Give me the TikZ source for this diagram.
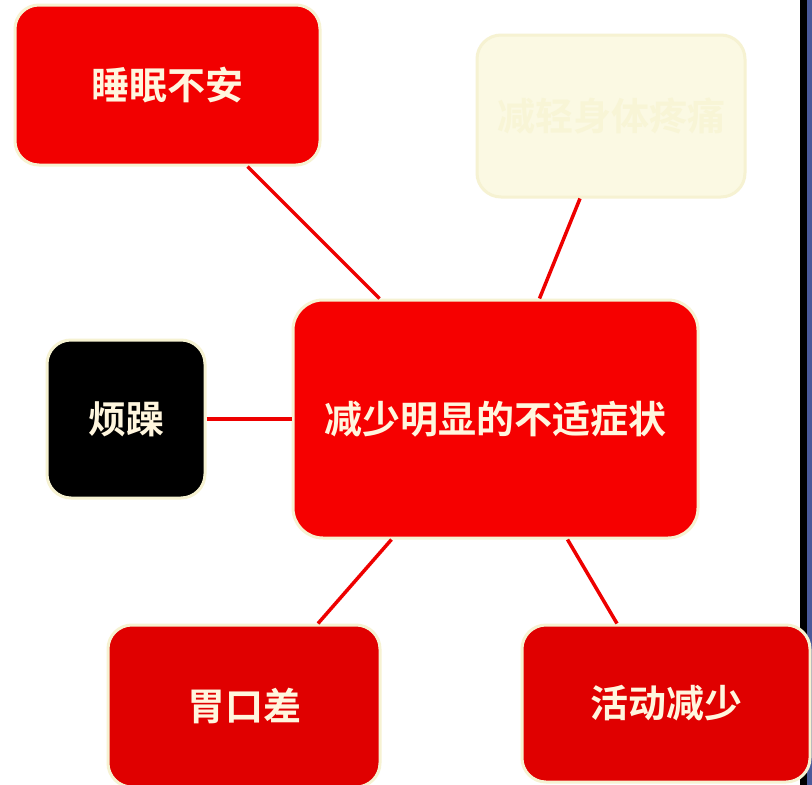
\documentclass[tikz,border=0pt]{standalone}
\usepackage{fontspec}
\newfontfamily\cjk{Noto Sans CJK SC}[BoldFont={Noto Sans CJK SC Bold}]
\definecolor{boxred}{HTML}{F20000}
\definecolor{corered}{HTML}{F60000}
\definecolor{darkred}{HTML}{E00000}
\definecolor{cream}{HTML}{F6F2D2}
\definecolor{paper}{HTML}{FBF9E3}
\definecolor{faintink}{HTML}{F8F5D6}
\definecolor{textcream}{HTML}{FFF6DE}
\definecolor{linered}{HTML}{EE0000}
\definecolor{edgeblue}{HTML}{4A5A9A}
\begin{document}
\begin{tikzpicture}[x=1pt,y=-1pt,
  card/.style={draw=cream, line width=3pt, rounded corners=24pt,
    minimum width=#1, align=center, text=textcream,
    font=\cjk\bfseries\fontsize{38}{42}\selectfont},
  link/.style={draw=linered, line width=3.5pt}]
\useasboundingbox (0,0) rectangle (812,785);
\fill[white] (0,0) rectangle (812,785);
% right window edge
\fill[black] (800,0) rectangle (807,785);
\fill[edgeblue] (807,0) rectangle (812,785);
% nodes
\node[card=305pt, minimum height=160pt, fill=boxred] (sleep) at (167.5,85) {睡眠不安};
\node[card=268pt, minimum height=162pt, fill=paper, text=faintink] (faint) at (611,116) {减轻身体疼痛};
\node[card=405pt, minimum height=238pt, fill=corered, rounded corners=30pt] (core) at (495.5,419) {减少明显的不适症状};
\node[card=158pt, minimum height=158pt, fill=black] (irr) at (126,419) {烦躁};
\node[card=272pt, minimum height=162pt, fill=darkred] (appetite) at (244,706) {胃口差};
\node[card=288pt, minimum height=157pt, fill=darkred] (activity) at (666,703.5) {活动减少};
% connectors
\draw[link] ([xshift=80pt]sleep.south) -- ([xshift=-116pt]core.north);
\draw[link] ([xshift=-31pt]faint.south) -- ([xshift=44pt]core.north);
\draw[link] (irr.east) -- (core.west);
\draw[link] ([xshift=-104pt]core.south) -- ([xshift=74pt]appetite.north);
\draw[link] ([xshift=72pt]core.south) -- ([xshift=-49pt]activity.north);
\end{tikzpicture}
\end{document}
